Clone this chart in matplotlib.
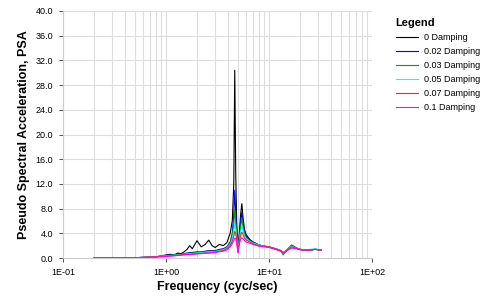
import matplotlib
matplotlib.use("Agg")
import matplotlib.pyplot as plt
from matplotlib.ticker import FixedLocator, LogLocator, NullFormatter, FuncFormatter

plt.rcParams['font.family'] = ['Liberation Sans', 'DejaVu Sans']

freq = [0.2, 0.3, 0.5, 0.6, 0.8, 0.9, 1.0, 1.1, 1.2, 1.3, 1.4, 1.5, 1.6, 1.7, 1.8,
        2.0, 2.2, 2.4, 2.6, 2.8, 3.0, 3.3, 3.6, 3.9, 4.2, 4.4, 4.55, 4.65, 4.75, 4.85,
        5.0, 5.15, 5.3, 5.45, 5.6, 5.8, 6.0, 6.5, 7.0, 8.0, 9.0, 10.0, 11.0, 12.0,
        13.0, 13.7, 15.0, 16.6, 18.5, 20.0, 22.0, 25.0, 28.0, 32.0]

d0 = [0.05, 0.05, 0.05, 0.1, 0.2, 0.35, 0.5, 0.6, 0.5, 0.8, 0.7, 1.0, 1.4, 2.0, 1.5,
      2.8, 1.8, 2.2, 2.9, 2.0, 1.7, 2.2, 2.0, 2.5, 4.0, 6.0, 12.0, 30.4, 14.0, 6.0,
      1.5, 4.0, 7.0, 8.8, 6.5, 4.5, 3.8, 3.0, 2.6, 2.1, 1.9, 1.8, 1.6, 1.4,
      1.2, 0.8, 1.3, 2.1, 1.6, 1.4, 1.3, 1.3, 1.4, 1.3]
d02 = [0.05, 0.05, 0.05, 0.1, 0.2, 0.3, 0.4, 0.5, 0.5, 0.6, 0.6, 0.7, 0.8, 0.9, 0.9,
       1.0, 1.0, 1.1, 1.2, 1.2, 1.2, 1.4, 1.5, 1.8, 2.6, 4.0, 7.0, 11.0, 7.5, 4.5,
       1.3, 3.5, 5.8, 7.5, 5.5, 4.0, 3.5, 2.9, 2.5, 2.1, 1.9, 1.8, 1.6, 1.4,
       1.2, 0.8, 1.3, 2.0, 1.6, 1.4, 1.3, 1.3, 1.4, 1.3]
d03 = [0.05, 0.05, 0.05, 0.1, 0.2, 0.3, 0.4, 0.45, 0.5, 0.55, 0.6, 0.65, 0.7, 0.8, 0.8,
       0.9, 0.95, 1.0, 1.1, 1.1, 1.1, 1.3, 1.4, 1.7, 2.4, 3.6, 5.5, 7.8, 6.0, 4.0,
       1.1, 3.2, 5.0, 6.5, 5.0, 3.8, 3.3, 2.8, 2.5, 2.1, 1.9, 1.8, 1.6, 1.4,
       1.2, 0.5, 1.3, 2.0, 1.6, 1.4, 1.3, 1.3, 1.4, 1.3]
d05 = [0.05, 0.05, 0.05, 0.1, 0.2, 0.3, 0.35, 0.4, 0.45, 0.5, 0.55, 0.6, 0.65, 0.7, 0.7,
       0.8, 0.85, 0.9, 1.0, 1.0, 1.0, 1.2, 1.3, 1.6, 2.2, 3.1, 4.3, 5.5, 4.8, 3.5,
       1.0, 2.9, 4.3, 5.2, 4.4, 3.5, 3.1, 2.7, 2.4, 2.1, 1.9, 1.8, 1.6, 1.4,
       1.2, 0.8, 1.3, 1.9, 1.6, 1.4, 1.3, 1.4, 1.5, 1.3]
d07 = [0.05, 0.05, 0.05, 0.1, 0.2, 0.25, 0.3, 0.35, 0.4, 0.45, 0.5, 0.55, 0.6, 0.6, 0.65,
       0.7, 0.75, 0.8, 0.85, 0.9, 0.95, 1.1, 1.2, 1.5, 2.0, 2.7, 3.5, 4.3, 4.0, 3.0,
       0.9, 2.6, 3.7, 4.2, 3.8, 3.2, 2.9, 2.6, 2.3, 2.0, 1.9, 1.8, 1.6, 1.4,
       1.2, 0.8, 1.3, 1.8, 1.6, 1.4, 1.3, 1.3, 1.4, 1.3]
d10 = [0.05, 0.05, 0.05, 0.1, 0.15, 0.2, 0.25, 0.3, 0.35, 0.4, 0.45, 0.5, 0.55, 0.55, 0.6,
       0.65, 0.7, 0.75, 0.8, 0.85, 0.9, 1.0, 1.1, 1.3, 1.8, 2.3, 2.8, 3.2, 3.1, 2.6,
       0.8, 2.2, 3.0, 3.3, 3.1, 2.8, 2.6, 2.4, 2.2, 1.9, 1.8, 1.7, 1.5, 1.3,
       1.1, 0.9, 1.2, 1.6, 1.5, 1.3, 1.3, 1.3, 1.4, 1.3]

labels = ["0 Damping", "0.02 Damping", "0.03 Damping", "0.05 Damping", "0.07 Damping", "0.1 Damping"]
series = [d0, d02, d03, d05, d07, d10]
colors = ["#000000", "#0000ff", "#00a000", "#00ffff", "#ff2020", "#ff00ff"]

fig = plt.figure(figsize=(4.8, 2.97), dpi=100)
ax = fig.add_axes([63/480, 39/297, 309/480, 247/297])

for y, lab, c in zip(series, labels, colors):
    ax.plot(freq, y, color=c, lw=0.8, label=lab)

ax.set_xscale('log')
ax.set_xlim(0.1, 100)
ax.set_ylim(0, 40)
ax.set_yticks([0, 4, 8, 12, 16, 20, 24, 28, 32, 36, 40])
ax.yaxis.set_major_formatter(FuncFormatter(lambda v, p: f"{v:.1f}"))
ax.xaxis.set_major_locator(FixedLocator([0.1, 1, 10, 100]))
ax.xaxis.set_major_formatter(FuncFormatter(lambda v, p: {0.1: "1E-01", 1: "1E+00", 10: "1E+01", 100: "1E+02"}.get(round(v, 3), "")))
ax.xaxis.set_minor_locator(LogLocator(base=10, subs=range(2, 10), numticks=20))
ax.xaxis.set_minor_formatter(NullFormatter())
ax.tick_params(axis='x', which='minor', length=0)
ax.tick_params(axis='both', which='major', labelsize=6.5, length=3, width=0.6, color='#333333', pad=4)
ax.grid(True, which='both', axis='x', color='#dddddd', lw=0.8)
ax.grid(True, which='major', axis='y', color='#dddddd', lw=0.8)
ax.set_axisbelow(True)
for s in ['top', 'right']:
    ax.spines[s].set_visible(False)
for s in ['left', 'bottom']:
    ax.spines[s].set_color('#cccccc')
    ax.spines[s].set_linewidth(0.8)

ax.set_xlabel("Frequency (cyc/sec)", fontsize=9, fontweight='bold', labelpad=3)
ax.set_ylabel("Pseudo Spectral Acceleration, PSA", fontsize=9, fontweight='bold', labelpad=4)

leg = ax.legend(loc='upper left', bbox_to_anchor=(1.065, 0.985), frameon=False, fontsize=6.5,
                title="Legend", title_fontproperties={'weight': 'bold', 'size': 8},
                handlelength=2.5, handletextpad=0.6, labelspacing=0.55, borderaxespad=0)
leg._legend_box.align = "left"

fig.savefig("out.png", dpi=100)
